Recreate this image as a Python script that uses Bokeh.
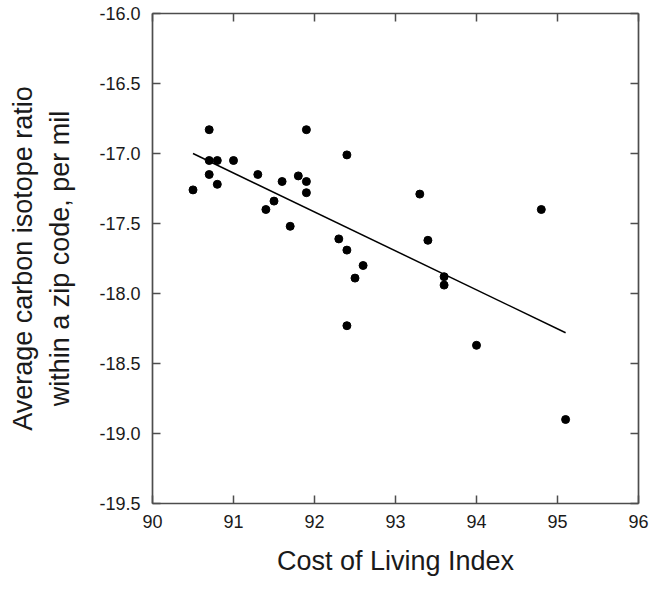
from bokeh.plotting import figure
from bokeh.models import (LinearAxis, FixedTicker, PrintfTickFormatter,
                          CustomJSTickFormatter, Range1d)
from bokeh.embed import file_html
from bokeh.resources import INLINE

# ---- data ----
cost_index = [90.5, 90.7, 90.7, 90.8, 90.7, 90.8, 91.0, 91.3, 91.4, 91.5,
              91.6, 91.7, 91.8, 91.9, 91.9, 91.9, 92.3, 92.4, 92.6, 92.5,
              92.4, 92.4, 93.3, 94.8, 93.4, 93.6, 93.6, 94.0, 95.1]
carbon_ratio = [-17.26, -16.83, -17.05, -17.05, -17.15, -17.22, -17.05, -17.15, -17.40, -17.34,
                -17.20, -17.52, -17.16, -16.83, -17.20, -17.28, -17.61, -17.69, -17.80, -17.89,
                -17.01, -18.23, -17.29, -17.40, -17.62, -17.88, -17.94, -18.37, -18.90]
fit_x = [90.5, 95.1]
fit_y = [-17.00, -18.28]
x_ticks = [90, 91, 92, 93, 94, 95, 96]
y_ticks = [-19.5, -19.0, -18.5, -18.0, -17.5, -17.0, -16.5, -16.0]
x_title = "Cost of Living Index"
y_title = "Average carbon isotope ratio\nwithin a zip code, per mil"

FONT = "Liberation Sans"
AX = "#4d4d4d"
TXT = "#1a1a1a"

p = figure(width=649, height=578, output_backend="svg", toolbar_location=None,
           x_range=Range1d(90, 96), y_range=Range1d(-19.5, -16.0),
           x_axis_location=None, y_axis_location=None,
           min_border_left=152, min_border_right=11, min_border_top=13,
           min_border_bottom=75)
p.outline_line_color = None
p.xgrid.visible = False
p.ygrid.visible = False
p.background_fill_color = "white"
p.border_fill_color = "white"


def style(ax, labels=True):
    ax.axis_line_color = AX
    ax.axis_line_width = 1.7
    ax.major_tick_line_color = AX
    ax.major_tick_line_width = 1.5
    ax.major_tick_in = 8
    ax.major_tick_out = 0
    ax.minor_tick_in = 0
    ax.minor_tick_out = 0
    ax.major_label_text_font = FONT
    ax.major_label_text_font_size = "18px"
    ax.major_label_text_color = TXT
    ax.axis_label_text_font = FONT
    ax.axis_label_text_font_size = "27px"
    ax.axis_label_text_font_style = "normal"
    ax.axis_label_text_color = TXT
    if not labels:
        ax.formatter = CustomJSTickFormatter(code="return ''")
        ax.major_label_text_font_size = "0px"
        ax.major_label_standoff = 0


xb = LinearAxis(ticker=FixedTicker(ticks=x_ticks), formatter=PrintfTickFormatter(format="%d"))
style(xb)
xb.major_label_standoff = 11
xb.major_label_text_line_height = 1.0
xb.axis_label = x_title
xb.axis_label_text_line_height = 1.0
xb.axis_label_standoff = 15
p.add_layout(xb, "below")

xt = LinearAxis(ticker=FixedTicker(ticks=x_ticks))
style(xt, labels=False)
p.add_layout(xt, "above")

yl = LinearAxis(ticker=FixedTicker(ticks=y_ticks), formatter=PrintfTickFormatter(format="%.1f"))
style(yl)
yl.major_label_standoff = 12
yl.axis_label = y_title
yl.axis_label_standoff = 21
yl.axis_label_text_line_height = 1.24
p.add_layout(yl, "left")

yr = LinearAxis(ticker=FixedTicker(ticks=y_ticks))
style(yr, labels=False)
p.add_layout(yr, "right")

p.line(fit_x, fit_y, line_color="black", line_width=1.5)
p.scatter(cost_index, carbon_ratio, size=8, fill_color="black", line_color="black")

open("out.html", "w").write(file_html(p, INLINE))
